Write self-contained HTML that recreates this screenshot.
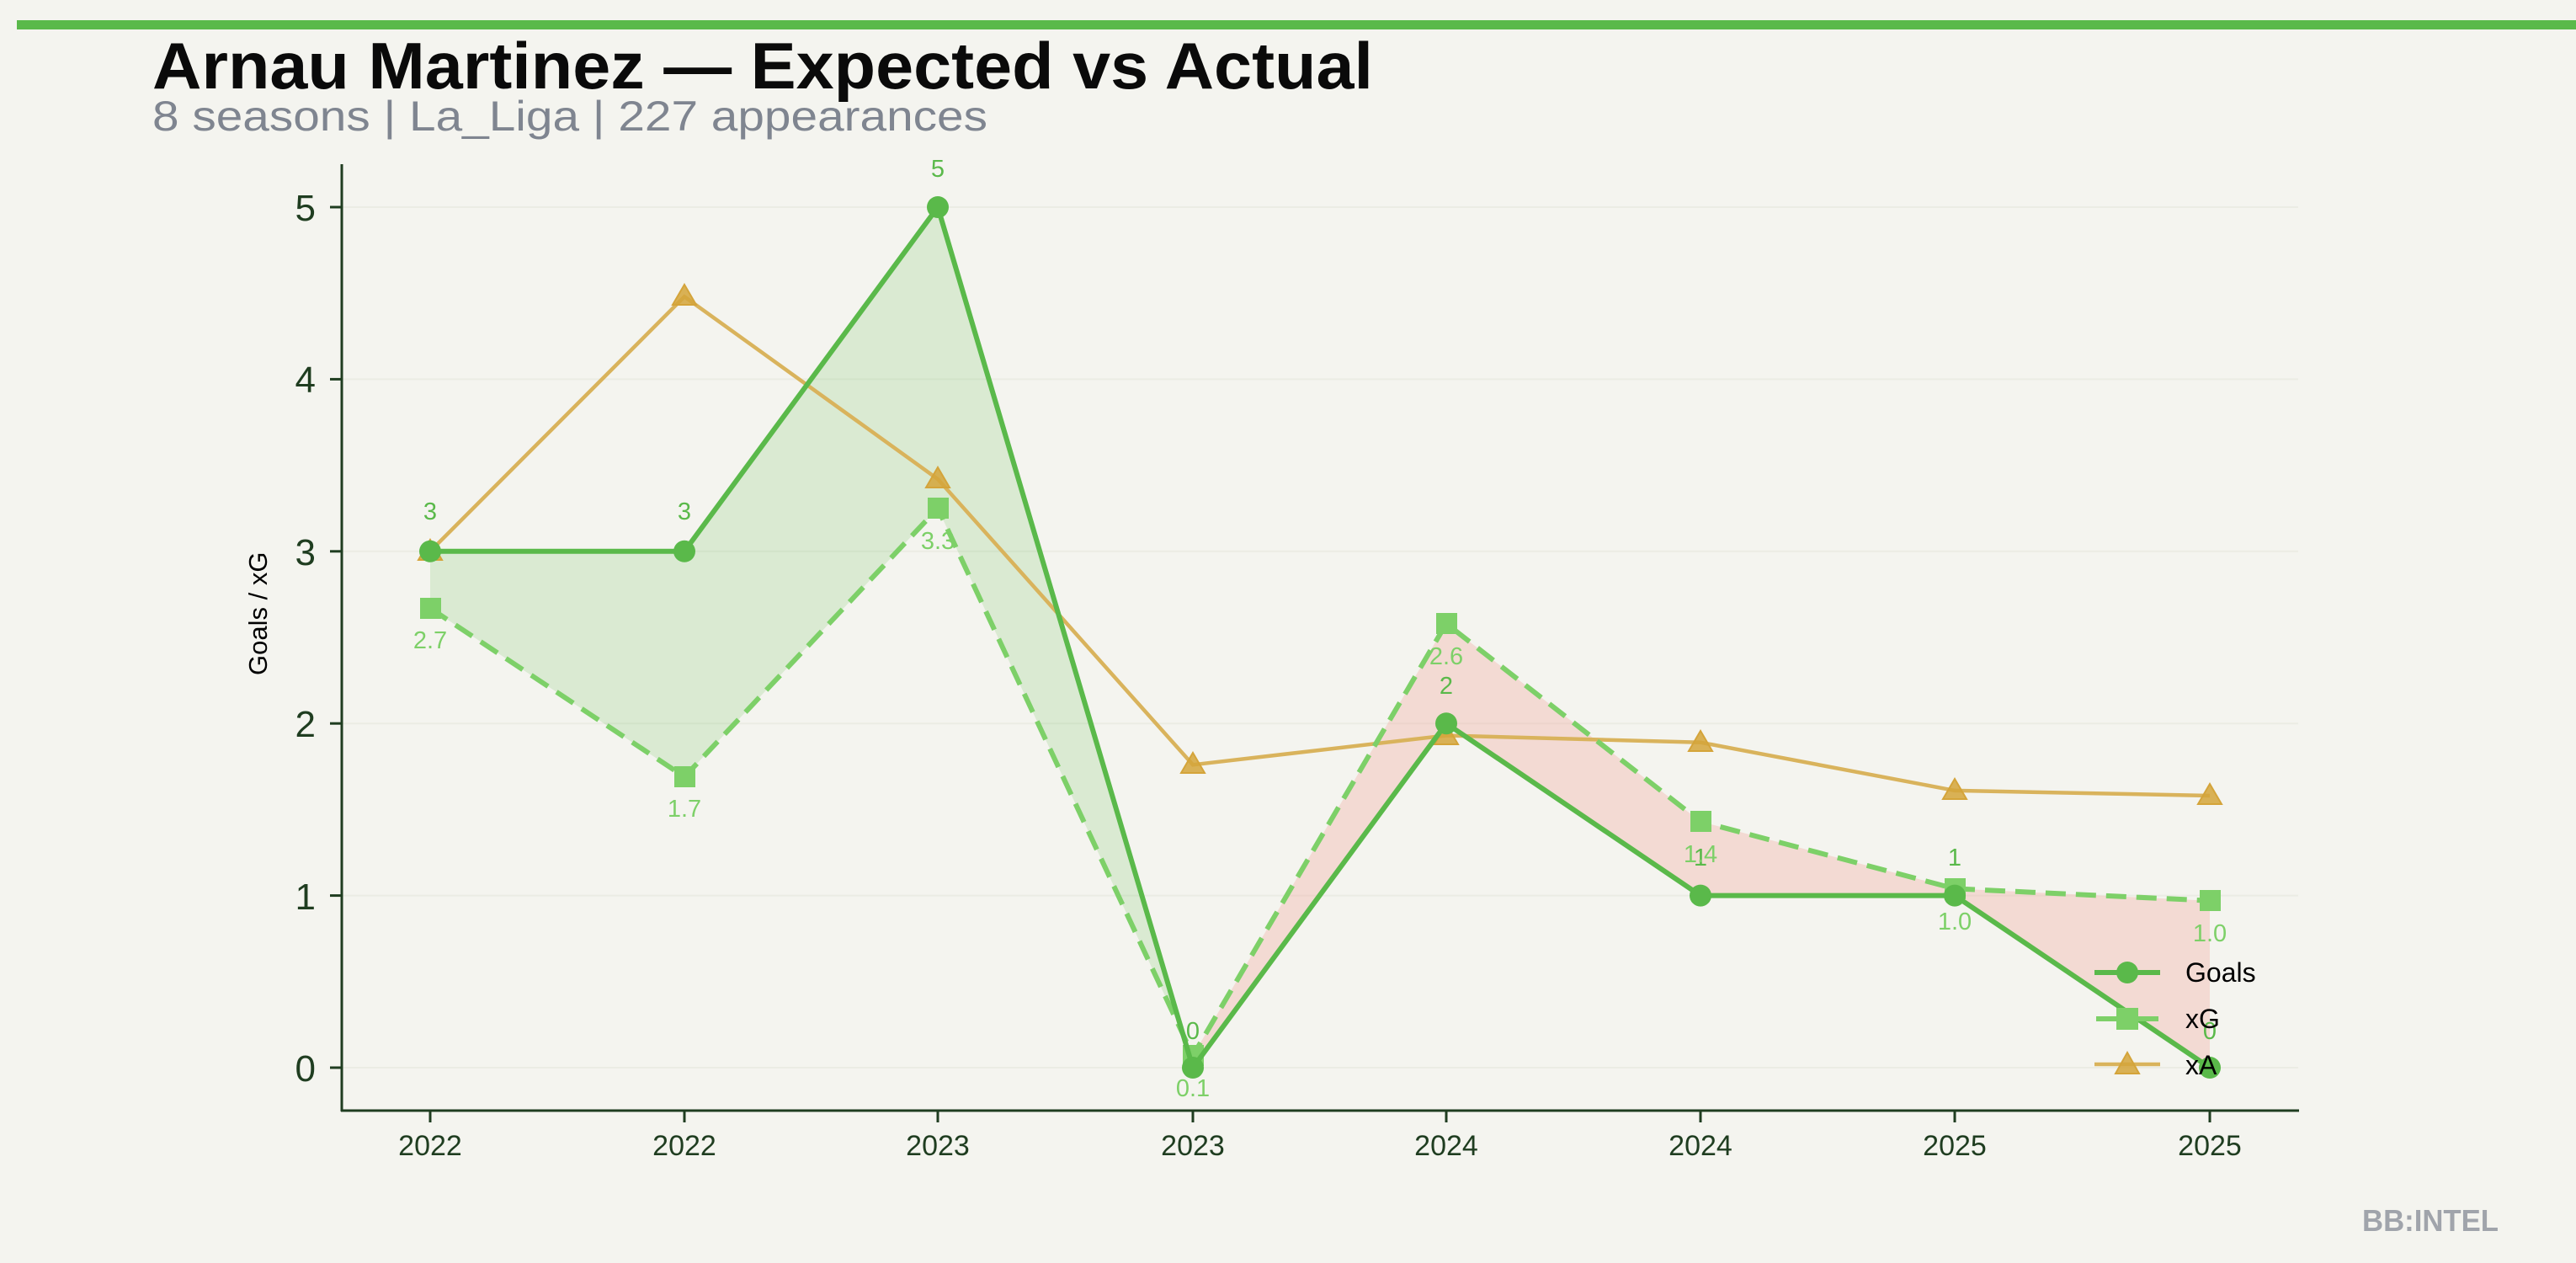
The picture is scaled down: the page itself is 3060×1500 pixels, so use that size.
<!DOCTYPE html>
<html><head><meta charset="utf-8"><style>
html,body{margin:0;padding:0;background:#f4f4ef;}
svg{display:block;font-family:"Liberation Sans",sans-serif;}
</style></head><body>
<svg width="3060" height="1500" viewBox="0 0 3060 1500" xmlns="http://www.w3.org/2000/svg">
<rect width="3060" height="1500" fill="#f4f4ef"/>
<rect x="20" y="24" width="3040" height="11" fill="#5ab94a"/>
<text x="181" y="105" font-size="78" font-weight="bold" fill="#0a0a0a" textLength="1450" lengthAdjust="spacingAndGlyphs">Arnau Martinez — Expected vs Actual</text>
<text x="181" y="155" font-size="50" fill="#7f8590" textLength="992" lengthAdjust="spacingAndGlyphs">8 seasons | La_Liga | 227 appearances</text>
<!-- grid -->
<g stroke="#ebece4" stroke-width="2">
<line x1="406" x2="2730" y1="1268" y2="1268"/><line x1="406" x2="2730" y1="1063.6" y2="1063.6"/>
<line x1="406" x2="2730" y1="859.2" y2="859.2"/><line x1="406" x2="2730" y1="654.8" y2="654.8"/>
<line x1="406" x2="2730" y1="450.4" y2="450.4"/><line x1="406" x2="2730" y1="246" y2="246"/>
</g>
<!-- fills -->
<polygon points="511,654.8 813,654.8 1114,246 1405.3,1228.7 1114,603.7 813,922.6 511,722.3" fill="#5ab94a" fill-opacity="0.17"/>
<polygon points="1405.3,1228.7 1417,1268 1718,859.2 2020,1063.6 2322,1063.6 2625,1268 2625,1069.7 2322,1055.4 2020,975.7 1718,740.6 1417,1253.7" fill="#f0a9a0" fill-opacity="0.35"/>
<!-- xA -->
<polyline points="511,654.8 813,352.3 1114,569 1417,908.3 1718,873.5 2020,881.7 2322,938.9 2625,945" fill="none" stroke="#d9b35c" stroke-width="4.5"/>
<g fill="#d4a43a" fill-opacity="0.85" stroke="#d4a43a" stroke-width="2">
<polygon points="511,641 525,665 497,665"/><polygon points="813,338 827,362 799,362"/><polygon points="1114,555 1128,579 1100,579"/><polygon points="1417,894 1431,918 1403,918"/><polygon points="1718,860 1732,884 1704,884"/><polygon points="2020,868 2034,892 2006,892"/><polygon points="2322,925 2336,949 2308,949"/><polygon points="2625,931 2639,955 2611,955"/>
</g>
<!-- xG -->
<polyline points="511,722.3 813,922.6 1114,603.7 1417,1253.7 1718,740.6 2020,975.7 2322,1055.4 2625,1069.7" fill="none" stroke="#7dd068" stroke-width="6" stroke-dasharray="24,12"/>
<g fill="#7dd068">
<rect x="499" y="710" width="25" height="25"/><rect x="801" y="910" width="25" height="25"/><rect x="1102" y="591" width="25" height="25"/><rect x="1405" y="1241" width="25" height="25"/><rect x="1706" y="728" width="25" height="25"/><rect x="2008" y="963" width="25" height="25"/><rect x="2310" y="1043" width="25" height="25"/><rect x="2613" y="1057" width="25" height="25"/>
</g>
<!-- Goals -->
<polyline points="511,654.8 813,654.8 1114,246 1417,1268 1718,859.2 2020,1063.6 2322,1063.6 2625,1268" fill="none" stroke="#5ab94a" stroke-width="6"/>
<g fill="#5ab94a">
<circle cx="511" cy="654.8" r="13"/><circle cx="813" cy="654.8" r="13"/><circle cx="1114" cy="246" r="13"/><circle cx="1417" cy="1268" r="13"/><circle cx="1718" cy="859.2" r="13"/><circle cx="2020" cy="1063.6" r="13"/><circle cx="2322" cy="1063.6" r="13"/><circle cx="2625" cy="1268" r="13"/>
</g>
<!-- labels -->
<g font-size="29" text-anchor="middle" fill="#5ab94a">
<text x="511" y="617">3</text><text x="813" y="617">3</text><text x="1114" y="210">5</text><text x="1417" y="1234">0</text><text x="1718" y="824">2</text><text x="2020" y="1028">1</text><text x="2322" y="1028">1</text><text x="2625" y="1234">0</text>
</g>
<g font-size="29" text-anchor="middle" fill="#7dd068">
<text x="511" y="770">2.7</text><text x="813" y="970">1.7</text><text x="1114" y="652">3.3</text><text x="1417" y="1302">0.1</text><text x="1718" y="789">2.6</text><text x="2020" y="1024">1.4</text><text x="2322" y="1104">1.0</text><text x="2625" y="1118">1.0</text>
</g>
<!-- axes -->
<g stroke="#1f3d20" stroke-width="3" fill="none">
<line x1="406" y1="195" x2="406" y2="1320"/><line x1="405" y1="1319" x2="2731" y2="1319"/>
<line x1="392" x2="406" y1="246" y2="246"/><line x1="392" x2="406" y1="450.4" y2="450.4"/><line x1="392" x2="406" y1="654.8" y2="654.8"/><line x1="392" x2="406" y1="859.2" y2="859.2"/><line x1="392" x2="406" y1="1063.6" y2="1063.6"/><line x1="392" x2="406" y1="1268" y2="1268"/>
<line x1="511" x2="511" y1="1319" y2="1333"/><line x1="813" x2="813" y1="1319" y2="1333"/><line x1="1114" x2="1114" y1="1319" y2="1333"/><line x1="1417" x2="1417" y1="1319" y2="1333"/><line x1="1718" x2="1718" y1="1319" y2="1333"/><line x1="2020" x2="2020" y1="1319" y2="1333"/><line x1="2322" x2="2322" y1="1319" y2="1333"/><line x1="2625" x2="2625" y1="1319" y2="1333"/>
</g>
<g font-size="44" text-anchor="end" fill="#1f3d20">
<text x="375" y="262">5</text><text x="375" y="466">4</text><text x="375" y="671">3</text><text x="375" y="875">2</text><text x="375" y="1080">1</text><text x="375" y="1284">0</text>
</g>
<g font-size="34" text-anchor="middle" fill="#1f3d20">
<text x="511" y="1372">2022</text><text x="813" y="1372">2022</text><text x="1114" y="1372">2023</text><text x="1417" y="1372">2023</text><text x="1718" y="1372">2024</text><text x="2020" y="1372">2024</text><text x="2322" y="1372">2025</text><text x="2625" y="1372">2025</text>
</g>
<text x="317" y="802" font-size="31" fill="#000" transform="rotate(-90 317 802)" >Goals / xG</text>
<!-- legend -->
<line x1="2488" x2="2566" y1="1155" y2="1155" stroke="#5ab94a" stroke-width="6"/><circle cx="2527" cy="1155" r="13" fill="#5ab94a"/>
<line x1="2490" x2="2564" y1="1210" y2="1210" stroke="#7dd068" stroke-width="6"/><rect x="2514" y="1197" width="26" height="26" fill="#7dd068"/>
<line x1="2488" x2="2566" y1="1264" y2="1264" stroke="#d9b35c" stroke-width="4.5"/><polygon points="2527,1250 2541,1275 2513,1275" fill="#d4a43a" fill-opacity="0.85" stroke="#d4a43a" stroke-width="2"/>
<g font-size="32" fill="#000">
<text x="2596" y="1166">Goals</text><text x="2596" y="1221">xG</text><text x="2596" y="1276">xA</text>
</g>
<text x="2806" y="1462" font-size="36" font-weight="bold" fill="#a0a4ab" textLength="162" lengthAdjust="spacingAndGlyphs">BB:INTEL</text>
</svg>
</body></html>
